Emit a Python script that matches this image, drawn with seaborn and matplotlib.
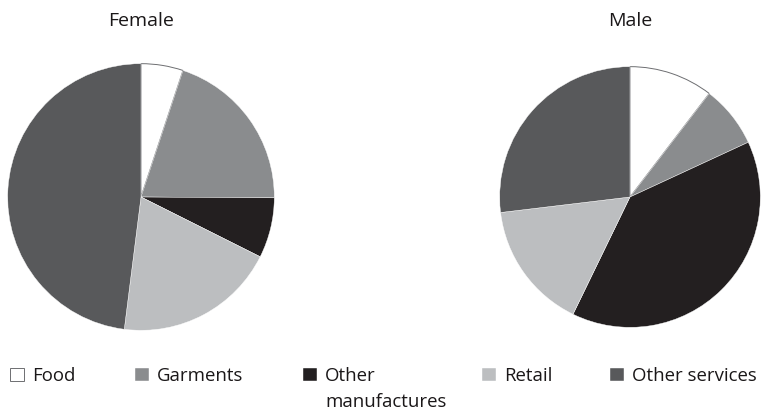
import matplotlib
matplotlib.use("Agg")
import matplotlib.pyplot as plt
import seaborn as sns

sns.set_theme(style="white")
plt.rcParams['font.family'] = ['Open Sans', 'DejaVu Sans']

categories = ["Food", "Garments", "Other", "Retail", "Other services"]
label_second_line = ["", "", "manufactures", "", ""]
female_values = [5.1, 20.0, 7.3, 19.6, 48.0]
male_values = [10.4, 7.7, 39.1, 15.9, 26.9]
colors = ["#ffffff", "#8a8c8e", "#231f20", "#bcbec0", "#58595b"]

W, H = 761, 411
FS = 14
LFS = 13.4
fig = plt.figure(figsize=(W / 100, H / 100), dpi=100)
fig.patch.set_facecolor("white")

def add_pie(cx, cy, r, values, title):
    ax = fig.add_axes([(cx - r) / W, (H - cy - r) / H, 2 * r / W, 2 * r / H])
    wedges, _ = ax.pie(values, colors=colors, startangle=90, counterclock=False,
                       radius=1, wedgeprops=dict(edgecolor="white", linewidth=0.3))
    wedges[0].set_edgecolor("#6d6e71")
    wedges[0].set_linewidth(0.7)
    ax.set_xlim(-1.005, 1.005)
    ax.set_ylim(-1.005, 1.005)
    ax.set_axis_off()
    fig.text(cx / W, 1 - 26 / H, title, ha="center", va="baseline",
             fontsize=FS, color="#1a1718")
    return wedges

wedges_f = add_pie(141, 197, 134, female_values, "Female")
add_pie(630, 197, 131, male_values, "Male")

legend_x = [10, 135, 303, 482, 610]
hl = 14 / (LFS * 100 / 72)
for w, lab, lab2, x in zip(wedges_f, categories, label_second_line, legend_x):
    fig.legend(handles=[w], labels=[lab], loc="upper left",
               bbox_to_anchor=(x / W, 1 - 367 / H), frameon=False,
               borderpad=0, borderaxespad=0, handlelength=hl,
               handleheight=hl, handletextpad=0.45, fontsize=LFS,
               labelcolor="#1a1718")
    if lab2:
        tx = x + (hl + 0.45) * LFS * 100 / 72
        fig.text(tx / W, 1 - 407 / H, lab2, ha="left", va="baseline",
                 fontsize=LFS, color="#1a1718")

fig.savefig("out.png", dpi=100, facecolor="white")
